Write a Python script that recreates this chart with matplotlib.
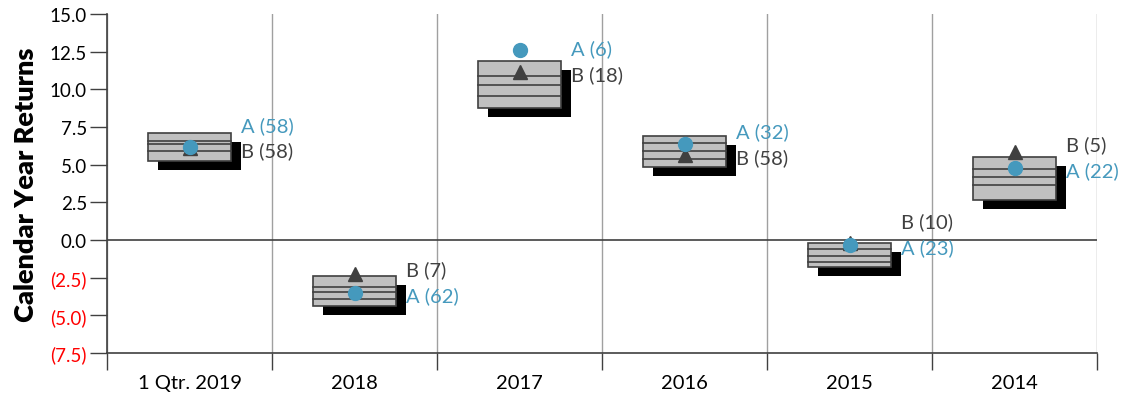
import matplotlib.pyplot as plt
import matplotlib.transforms as mtransforms
from matplotlib.patches import Rectangle
from matplotlib.ticker import FuncFormatter

plt.rcParams['font.family'] = ['Lato', 'DejaVu Sans']

# data
categories = ['1 Qtr. 2019', '2018', '2017', '2016', '2015', '2014']
box_top = [7.1, -2.37, 11.9, 6.92, -0.22, 5.49]
box_q1 = [6.59, -3.1, 10.88, 6.42, -0.62, 4.69]
box_med = [6.35, -3.43, 10.29, 5.91, -1.04, 4.16]
box_q3 = [5.9, -3.93, 9.56, 5.36, -1.48, 3.65]
box_bot = [5.26, -4.38, 8.78, 4.86, -1.81, 2.65]
a_vals = [6.2, -3.5, 12.6, 6.4, -0.3, 4.8]
b_vals = [6.1, -2.28, 11.15, 5.65, -0.22, 5.86]
a_ranks = [58, 62, 6, 32, 23, 22]
b_ranks = [58, 7, 18, 58, 10, 5]

teal = '#4599bd'
dark = '#404040'

fig = plt.figure(figsize=(11.32, 4.02), dpi=100)
ax = fig.add_axes([107 / 1132, 1 - 354 / 402, 990 / 1132, 339 / 402])

ax.set_xlim(-0.5, len(categories) - 0.5)
ax.set_ylim(-7.5, 15)

shadow_tr = mtransforms.offset_copy(ax.transData, fig=fig, x=10, y=-9, units='dots')
width = 0.5
for i in range(len(categories)):
    left = i - width / 2
    h = box_top[i] - box_bot[i]
    ax.add_patch(Rectangle((left, box_bot[i]), width, h, facecolor='black',
                           edgecolor='none', transform=shadow_tr, zorder=3))
    ax.add_patch(Rectangle((left, box_bot[i]), width, h, facecolor='#c0c0c0',
                           edgecolor=dark, linewidth=1.2, zorder=4))
    for v in (box_q1[i], box_med[i], box_q3[i]):
        ax.plot([left, left + width], [v, v], color=dark, lw=1.2, zorder=5)

xs = range(len(categories))
ax.plot(xs, b_vals, linestyle='none', marker='^', markersize=10, color=dark, zorder=6)
ax.plot(xs, a_vals, linestyle='none', marker='o', markersize=10, color=teal, zorder=7)

# rank labels, lower one next to lower marker, upper one spaced above it
for i in range(len(categories)):
    lo = min(a_vals[i], b_vals[i]) - 0.15
    hi = max(max(a_vals[i], b_vals[i]), lo + 1.7)
    a_y, b_y = (hi, lo) if a_vals[i] >= b_vals[i] else (lo, hi)
    ax.text(i + 0.31, a_y, f'A ({a_ranks[i]})', color=teal, fontsize=14.5,
            va='center', ha='left', zorder=8, clip_on=False)
    ax.text(i + 0.31, b_y, f'B ({b_ranks[i]})', color=dark, fontsize=14.5,
            va='center', ha='left', zorder=8, clip_on=False)

ax.axhline(0, color=dark, lw=1.2, zorder=2)

# x axis: boundary ticks with grid, labels at centers
bounds = [i - 0.5 for i in range(len(categories) + 1)]
ax.set_xticks(bounds)
ax.set_xticklabels([''] * len(bounds))
ax.set_xticks(list(xs), minor=True)
ax.set_xticklabels(categories, minor=True, fontsize=14.5)
ax.tick_params(axis='x', which='major', direction='out', length=12.5, color=dark, width=1)
ax.tick_params(axis='x', which='minor', length=0, pad=15)
ax.grid(axis='x', which='major', color='#a0a0a0', lw=1)

yt = [15, 12.5, 10, 7.5, 5, 2.5, 0, -2.5, -5, -7.5]
ax.set_yticks(yt)
ax.yaxis.set_major_formatter(FuncFormatter(
    lambda v, p: f'({abs(v):.1f})' if v < 0 else f'{v:.1f}'))
ax.tick_params(axis='y', direction='out', length=12.5, color=dark, width=1,
               labelsize=13.5, pad=2)
for lab, v in zip(ax.get_yticklabels(), yt):
    lab.set_color('red' if v < 0 else 'black')

for s in ('top', 'right'):
    ax.spines[s].set_visible(False)
ax.spines['left'].set_color(dark)
ax.spines['bottom'].set_color(dark)
ax.spines['left'].set_linewidth(1.2)
ax.spines['bottom'].set_linewidth(1.2)

ax.set_ylabel('Calendar Year Returns', fontsize=19.5, fontweight='heavy', labelpad=8)

fig.savefig('out.png', dpi=100)
